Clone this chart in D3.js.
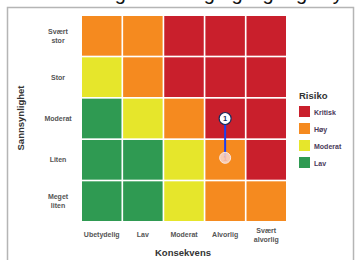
<!DOCTYPE html>
<html>
<head>
<meta charset="utf-8">
<script src="https://d3js.org/d3.v7.min.js"></script>
<style>
  body { margin: 0; background: #fff; }
  svg { display: block; font-family: "Liberation Sans", Arial, sans-serif; }
</style>
</head>
<body>
<svg id="matrix" width="363" height="260"></svg>
<script>
// categories
var konsekvens = ["Ubetydelig", "Lav", "Moderat", "Alvorlig", "Svært alvorlig"];
var sannsynlighet = ["Svært stor", "Stor", "Moderat", "Liten", "Meget liten"];
var risikoNivaa = ["Kritisk", "Høy", "Moderat", "Lav"];

// risk level per row (top to bottom), per column (left to right)
var matrise = [
  ["Høy", "Høy", "Kritisk", "Kritisk", "Kritisk"],
  ["Moderat", "Høy", "Kritisk", "Kritisk", "Kritisk"],
  ["Lav", "Moderat", "Høy", "Kritisk", "Kritisk"],
  ["Lav", "Lav", "Moderat", "Høy", "Kritisk"],
  ["Lav", "Lav", "Moderat", "Høy", "Høy"]
];

// risk 1 moved from (Alvorlig, Liten) to (Alvorlig, Moderat)
var risikoFoer = { id: "1", konsekvens: "Alvorlig", sannsynlighet: "Liten" };
var risikoEtter = { id: "1", konsekvens: "Alvorlig", sannsynlighet: "Moderat" };

var farger = { "Kritisk": "#c91f2c", "Høy": "#f58a1f", "Moderat": "#e6e62b", "Lav": "#2f9a52" };

var svg = d3.select("#matrix");

// title, cut off above the frame (only descenders show)
svg.append("text")
  .attr("x", 182).attr("y", 0)
  .attr("text-anchor", "middle")
  .attr("font-size", 20)
  .attr("fill", "#111")
  .text("Risikovurdering – endring og tilgangsstyring");

// frame
svg.append("rect")
  .attr("x", 7.5).attr("y", 7.5)
  .attr("width", 346).attr("height", 260)
  .attr("fill", "none")
  .attr("stroke", "#b5b5b5")
  .attr("stroke-width", 1.5);

var x = d3.scaleBand().domain(konsekvens).range([82, 286]).paddingInner(0.04);
var y = d3.scaleBand().domain(sannsynlighet).range([16, 221]).paddingInner(0.04);

var cells = [];
matrise.forEach(function(row, i) {
  row.forEach(function(v, j) {
    cells.push({ rad: sannsynlighet[i], kol: konsekvens[j], niva: v });
  });
});

svg.append("g").selectAll("rect")
  .data(cells)
  .enter().append("rect")
    .attr("x", d => x(d.kol))
    .attr("y", d => y(d.rad))
    .attr("width", x.bandwidth())
    .attr("height", y.bandwidth())
    .attr("fill", d => farger[d.niva]);

// y labels
var yl = svg.append("g").attr("font-size", 7).attr("font-weight", "bold").attr("fill", "#555");
sannsynlighet.forEach(function(s) {
  var parts = s.split(" ");
  var cy = y(s) + y.bandwidth() / 2;
  var t = yl.append("text").attr("text-anchor", "middle");
  parts.forEach(function(p, k) {
    t.append("tspan")
      .attr("x", 58)
      .attr("y", cy + 2.5 + (k - (parts.length - 1) / 2) * 9)
      .text(p);
  });
});

// x labels
var xl = svg.append("g").attr("font-size", 7).attr("font-weight", "bold").attr("fill", "#555");
konsekvens.forEach(function(s) {
  var parts = s === "Svært alvorlig" ? ["Svært", "alvorlig"] : [s];
  var cx = x(s) + x.bandwidth() / 2;
  var t = xl.append("text").attr("text-anchor", "middle");
  parts.forEach(function(p, k) {
    t.append("tspan")
      .attr("x", cx)
      .attr("y", 237 + (k - (parts.length - 1) / 2) * 9)
      .text(p);
  });
});

// axis titles
svg.append("text")
  .attr("x", 183).attr("y", 256)
  .attr("text-anchor", "middle")
  .attr("font-size", 9.5).attr("font-weight", "bold").attr("fill", "#333")
  .text("Konsekvens");

svg.append("text")
  .attr("transform", "translate(24," + 118 + ") rotate(-90)")
  .attr("text-anchor", "middle")
  .attr("font-size", 9.5).attr("font-weight", "bold").attr("fill", "#333")
  .text("Sannsynlighet");

// risk movement
var px = d => x(d.konsekvens) + x.bandwidth() / 2;
var py = d => y(d.sannsynlighet) + y.bandwidth() / 2;

svg.append("line")
  .attr("x1", px(risikoFoer)).attr("y1", py(risikoFoer) - 2)
  .attr("x2", px(risikoEtter)).attr("y2", py(risikoEtter))
  .attr("stroke", "#1c3ff0")
  .attr("stroke-width", 2);

svg.append("circle")
  .attr("cx", px(risikoFoer)).attr("cy", py(risikoFoer) - 2)
  .attr("r", 5.5)
  .attr("fill", "#f7d6cc")
  .attr("fill-opacity", 0.85)
  .attr("stroke", "#fbe6e0")
  .attr("stroke-width", 1);
svg.append("text")
  .attr("x", px(risikoFoer)).attr("y", py(risikoFoer) + 0.8)
  .attr("text-anchor", "middle")
  .attr("font-size", 7).attr("font-weight", "bold").attr("fill", "#f3b2a4")
  .text(risikoFoer.id);

svg.append("circle")
  .attr("cx", px(risikoEtter)).attr("cy", py(risikoEtter))
  .attr("r", 6)
  .attr("fill", "#fff")
  .attr("stroke", "#1a2a5a")
  .attr("stroke-width", 1.2);
svg.append("text")
  .attr("x", px(risikoEtter)).attr("y", py(risikoEtter) + 2.6)
  .attr("text-anchor", "middle")
  .attr("font-size", 7.5).attr("font-weight", "bold").attr("fill", "#1a2a5a")
  .text(risikoEtter.id);

// legend
var leg = svg.append("g").attr("transform", "translate(299,0)");
leg.append("text")
  .attr("x", 0).attr("y", 99)
  .attr("font-size", 9.5).attr("font-weight", "bold").attr("fill", "#333")
  .text("Risiko");
var li = leg.selectAll("g.item")
  .data(risikoNivaa)
  .enter().append("g")
    .attr("class", "item")
    .attr("transform", (d, i) => "translate(0," + (106 + i * 17) + ")");
li.append("rect")
  .attr("width", 11).attr("height", 11)
  .attr("fill", d => farger[d]);
li.append("text")
  .attr("x", 15).attr("y", 8.5)
  .attr("font-size", 7).attr("font-weight", "bold").attr("fill", "#4a3a5a")
  .text(d => d);
</script>
</body>
</html>
